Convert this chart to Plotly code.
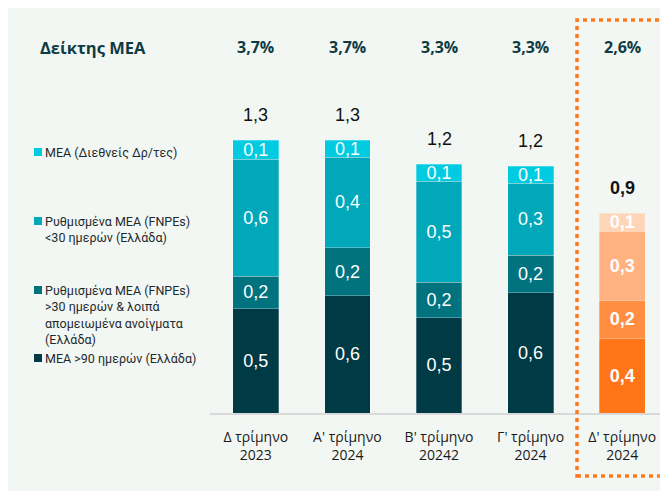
import plotly.graph_objects as go

# ---- data ----
categories = ["Δ τρίμηνο<br>2023", "Α' τρίμηνο<br>2024", "Β' τρίμηνο<br>20242",
              "Γ' τρίμηνο<br>2024", "Δ' τρίμηνο<br>2024"]
npe_ratio = ["3,7%", "3,7%", "3,3%", "3,3%", "2,6%"]
totals_text = ["1,3", "1,3", "1,2", "1,2", "<b>0,9</b>"]

mea_90 = [0.50, 0.56, 0.455, 0.575, 0.355]
fnpe_gt30 = [0.155, 0.23, 0.17, 0.18, 0.185]
fnpe_lt30 = [0.56, 0.435, 0.485, 0.345, 0.33]
mea_intl = [0.09, 0.08, 0.08, 0.08, 0.085]

mea_90_text = ["0,5", "0,6", "0,5", "0,6", "<b>0,4</b>"]
fnpe_gt30_text = ["0,2", "0,2", "0,2", "0,2", "<b>0,2</b>"]
fnpe_lt30_text = ["0,6", "0,4", "0,5", "0,3", "<b>0,3</b>"]
mea_intl_text = ["0,1", "0,1", "0,1", "0,1", "<b>0,1</b>"]

legend_names = ["ΜΕΑ (Διεθνείς Δρ/τες)",
                "Ρυθμισμένα ΜΕΑ (FNPEs)<br><30 ημερών (Ελλάδα)",
                "Ρυθμισμένα ΜΕΑ (FNPEs)<br>>30 ημερών & λοιπά<br>απομειωμένα ανοίγματα<br>(Ελλάδα)",
                "ΜΕΑ >90 ημερών (Ελλάδα)"]
header_label = "Δείκτης ΜΕΑ"

# ---- styles ----
teal_cols = ["#003A45", "#00737F", "#00A8B9", "#00CBE0"]
orange_cols = ["#FF7518", "#FF8E43", "#FFB27F", "#FFD5B7"]

OFF = 8  # page body margin
W, H = 660, 483
ML, MR, MT, MB = 202, 0, 22, 78
PW, PH = W - ML - MR, H - MT - MB
YMAX = 1.833


def px(xr):
    """reference page x -> paper fraction"""
    return (xr - OFF - ML) / PW


def py(yr):
    """reference page y -> paper fraction"""
    return (H - MB - (yr - OFF)) / PH


fig = go.Figure()
series = [(mea_90, mea_90_text), (fnpe_gt30, fnpe_gt30_text),
          (fnpe_lt30, fnpe_lt30_text), (mea_intl, mea_intl_text)]
for i, (vals, txt) in enumerate(series):
    colors = [teal_cols[i]] * (len(vals) - 1) + [orange_cols[i]]
    fig.add_trace(go.Bar(
        x=list(range(len(vals))), y=vals, text=txt,
        textposition="inside", insidetextanchor="middle",
        textfont=dict(family="Liberation Sans, Arial", size=18, color="white"),
        marker=dict(color=colors, line=dict(width=0.8, color="rgba(255,255,255,0.35)")),
        width=0.5, showlegend=False, hoverinfo="skip", cliponaxis=False,
    ))

totals = [a + b + c + d for a, b, c, d in zip(mea_90, fnpe_gt30, fnpe_lt30, mea_intl)]
annotations = []
for i, t in enumerate(totals):
    annotations.append(dict(x=i, y=t, xref="x", yref="y", text=totals_text[i],
                            showarrow=False, yanchor="middle", yshift=25,
                            font=dict(family="Liberation Sans, Arial", size=18, color="#111111")))
    annotations.append(dict(x=i, y=py(47), xref="x", yref="paper", text="<b>" + npe_ratio[i] + "</b>",
                            showarrow=False, yanchor="middle",
                            font=dict(family="Open Sans", size=16, color="#0E3B43")))
annotations.append(dict(x=px(38), y=py(47), xref="paper", yref="paper", text="<b>" + header_label + "</b>",
                        showarrow=False, xanchor="left", yanchor="middle",
                        font=dict(family="Open Sans", size=16.5, color="#0E3B43")))

shapes = [
    dict(type="rect", xref="paper", yref="paper", x0=px(577), x1=px(662), y0=py(476), y1=py(20),
         line=dict(color="#FF7A1F", width=3.5, dash="4px,4px"), layer="above"),
]

legend_ys = [152, 229, 315, 358]
legend_sq = [152, 221, 290, 358]
legend_cols = [teal_cols[3], teal_cols[2], teal_cols[1], teal_cols[0]]
for name, yc, ys, col in zip(legend_names, legend_ys, legend_sq, legend_cols):
    annotations.append(dict(x=px(43), y=py(yc), xref="paper", yref="paper", text=name,
                            showarrow=False, xanchor="left", yanchor="middle", align="left",
                            font=dict(family="Roboto", size=12.5, color="#1E2B2E")))
    shapes.append(dict(type="rect", xref="paper", yref="paper", x0=px(34), x1=px(42),
                       y0=py(ys + 4), y1=py(ys - 4), fillcolor=col, line=dict(width=0)))

fig.update_layout(
    width=W, height=H, barmode="stack",
    margin=dict(l=ML, r=MR, t=MT, b=MB),
    paper_bgcolor="#F3F7F4", plot_bgcolor="rgba(0,0,0,0)",
    uniformtext=dict(minsize=17, mode="show"),
    xaxis=dict(range=[-0.5, 4.5], tickmode="array", tickvals=list(range(5)), ticktext=categories,
               showline=True, linecolor="#D9D9D9", linewidth=1.5, showgrid=False, zeroline=False,
               ticks="", ticklabelstandoff=10,
               tickfont=dict(family="Open Sans", size=14, color="#1A1A1A")),
    yaxis=dict(range=[0, YMAX], visible=False),
    annotations=annotations, shapes=shapes,
)

fig.write_html("out.html")
